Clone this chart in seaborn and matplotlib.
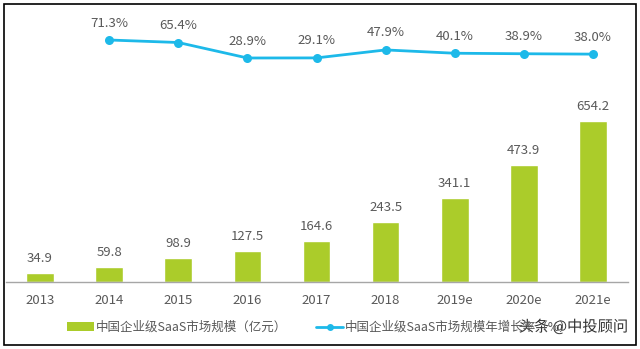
import matplotlib
matplotlib.use("Agg")
import matplotlib.pyplot as plt
import seaborn as sns
import numpy as np
import pandas as pd
from matplotlib.patches import Patch, Rectangle
from matplotlib.lines import Line2D
import matplotlib.patheffects as pe

# ---- data ----
years = ["2013", "2014", "2015", "2016", "2017", "2018", "2019e", "2020e", "2021e"]
market_size = [34.9, 59.8, 98.9, 127.5, 164.6, 243.5, 341.1, 473.9, 654.2]
growth_years = ["2014", "2015", "2016", "2017", "2018", "2019e", "2020e", "2021e"]
growth_rate = [71.3, 65.4, 28.9, 29.1, 47.9, 40.1, 38.9, 38.0]
bar_label_name = "中国企业级SaaS市场规模（亿元）"
line_label_name = "中国企业级SaaS市场规模年增长率（%）"
watermark = "头条 @中投顾问"

BAR_C = "#ABCC2A"
LINE_C = "#1DB9E9"
TXT_C = "#595959"

sns.set_theme(style="white")
plt.rcParams["font.family"] = ["Noto Sans CJK SC", "DejaVu Sans"]

W, H = 640, 349
fig = plt.figure(figsize=(W / 100, H / 100), dpi=100)
ax = fig.add_axes([5.5 / W, 1 - 282 / H, 622 / W, 272 / H])

df = pd.DataFrame({"year": years, "size": market_size})
sns.barplot(data=df, x="year", y="size", order=years, color=BAR_C,
            saturation=1, width=0.4, ax=ax)
ax.set_xlim(-0.5, len(years) - 0.5)
ax.set_ylim(0, 1105)
ax.set_xlabel("")
ax.set_ylabel("")
ax.set_yticks([])
for s in ["top", "left", "right"]:
    ax.spines[s].set_visible(False)
ax.spines["bottom"].set_color("#A6A6A6")
ax.spines["bottom"].set_linewidth(1.0)
ax.tick_params(axis="x", length=0, pad=8.5, labelsize=9.5, labelcolor=TXT_C)

for i, v in enumerate(market_size):
    ax.annotate(f"{v:.1f}", (i, v), xytext=(0, 10.5), textcoords="offset points",
                ha="center", va="center", fontsize=9.5, color=TXT_C)

ax2 = ax.twinx()
pos = [years.index(y) for y in growth_years]
gdf = pd.DataFrame({"pos": pos, "rate": growth_rate})
sns.lineplot(data=gdf, x="pos", y="rate", color=LINE_C, lw=2, marker="o",
             markersize=6.5, markeredgewidth=0, ax=ax2)
ax2.set_ylim(-499, 142)
ax2.set_yticks([])
ax2.set_xlabel("")
ax2.set_ylabel("")
for s in ["top", "left", "right", "bottom"]:
    ax2.spines[s].set_visible(False)
ax2.set_xlim(-0.5, len(years) - 0.5)
for p, v in zip(pos, growth_rate):
    ax2.annotate(f"{v:.1f}%", (p, v), xytext=(0, 12.2), textcoords="offset points",
                 ha="center", va="center", fontsize=9.5, color=TXT_C)

handles = [Patch(facecolor=BAR_C, edgecolor="none"),
           Line2D([], [], color=LINE_C, lw=2, marker="o", markersize=5, markeredgewidth=0)]
fig.legend(handles, [bar_label_name, line_label_name], loc="center",
           bbox_to_anchor=(0.5, 1 - 327.5 / H), ncol=2, frameon=False,
           fontsize=9, labelcolor=TXT_C, handlelength=2.15, handleheight=0.65,
           handletextpad=0.15, columnspacing=2.3)

fig.text(628 / W, 1 - 327 / H, watermark, ha="right", va="center", fontsize=11,
         color="#333333",
         path_effects=[pe.withStroke(linewidth=2, foreground="white")])

fig.patches.append(Rectangle((3.5 / W, 1 - 345 / H), 632 / W, 341.5 / H,
                             transform=fig.transFigure, fill=False,
                             edgecolor="black", lw=1.2))

fig.savefig("out.png", dpi=100)
